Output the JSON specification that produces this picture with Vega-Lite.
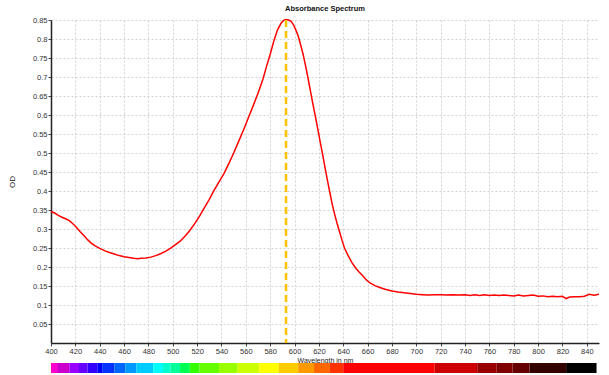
{
  "$schema": "https://vega.github.io/schema/vega-lite/v6.json",
  "background": "white",
  "padding": {"left": 8, "top": 4, "right": 5, "bottom": 2},
  "bounds": "flush",
  "spacing": 20,
  "config": {
    "font": "Liberation Sans",
    "view": {"stroke": null},
    "axis": {
      "labelFont": "Liberation Sans",
      "labelFontSize": 7.5,
      "labelColor": "#333333",
      "titleFont": "Liberation Sans",
      "titleFontWeight": "normal",
      "titleColor": "#222222",
      "domainColor": "#222222",
      "domainWidth": 1.5,
      "tickColor": "#444444",
      "tickSize": 3,
      "labelPadding": 1,
      "gridColor": "#d2d2d2",
      "gridDash": [2, 2],
      "gridWidth": 1
    }
  },
  "datasets": {
    "spectrum": [
      {"nm": 400, "od": 0.346}, {"nm": 403, "od": 0.342}, {"nm": 406, "od": 0.336}, {"nm": 409, "od": 0.331},
      {"nm": 412, "od": 0.327}, {"nm": 415, "od": 0.322}, {"nm": 418, "od": 0.314}, {"nm": 421, "od": 0.304},
      {"nm": 424, "od": 0.293}, {"nm": 427, "od": 0.283}, {"nm": 430, "od": 0.272}, {"nm": 433, "od": 0.263},
      {"nm": 436, "od": 0.256}, {"nm": 440, "od": 0.249}, {"nm": 444, "od": 0.243}, {"nm": 448, "od": 0.238},
      {"nm": 452, "od": 0.234}, {"nm": 456, "od": 0.230}, {"nm": 460, "od": 0.227}, {"nm": 464, "od": 0.225},
      {"nm": 468, "od": 0.223}, {"nm": 471, "od": 0.222}, {"nm": 474, "od": 0.223}, {"nm": 478, "od": 0.224},
      {"nm": 482, "od": 0.226}, {"nm": 486, "od": 0.230}, {"nm": 490, "od": 0.235}, {"nm": 494, "od": 0.241},
      {"nm": 498, "od": 0.249}, {"nm": 502, "od": 0.258}, {"nm": 506, "od": 0.268}, {"nm": 510, "od": 0.281},
      {"nm": 514, "od": 0.296}, {"nm": 518, "od": 0.314}, {"nm": 522, "od": 0.334}, {"nm": 526, "od": 0.356},
      {"nm": 530, "od": 0.378}, {"nm": 534, "od": 0.402}, {"nm": 538, "od": 0.424}, {"nm": 542, "od": 0.446},
      {"nm": 546, "od": 0.472}, {"nm": 550, "od": 0.500}, {"nm": 554, "od": 0.530}, {"nm": 558, "od": 0.560},
      {"nm": 562, "od": 0.592}, {"nm": 566, "od": 0.624}, {"nm": 570, "od": 0.657}, {"nm": 574, "od": 0.694},
      {"nm": 577, "od": 0.728}, {"nm": 580, "od": 0.760}, {"nm": 583, "od": 0.795}, {"nm": 586, "od": 0.824},
      {"nm": 589, "od": 0.842}, {"nm": 591, "od": 0.849}, {"nm": 593, "od": 0.851}, {"nm": 595, "od": 0.850},
      {"nm": 597, "od": 0.847}, {"nm": 599, "od": 0.838}, {"nm": 601, "od": 0.824}, {"nm": 603, "od": 0.808},
      {"nm": 605, "od": 0.785}, {"nm": 607, "od": 0.760}, {"nm": 609, "od": 0.730}, {"nm": 611, "od": 0.698},
      {"nm": 613, "od": 0.664}, {"nm": 615, "od": 0.630}, {"nm": 617, "od": 0.598}, {"nm": 619, "od": 0.565},
      {"nm": 621, "od": 0.530}, {"nm": 623, "od": 0.497}, {"nm": 625, "od": 0.462}, {"nm": 627, "od": 0.428},
      {"nm": 629, "od": 0.396}, {"nm": 631, "od": 0.364}, {"nm": 633, "od": 0.338}, {"nm": 635, "od": 0.314},
      {"nm": 637, "od": 0.292}, {"nm": 639, "od": 0.270}, {"nm": 641, "od": 0.250}, {"nm": 644, "od": 0.230},
      {"nm": 647, "od": 0.212}, {"nm": 650, "od": 0.198}, {"nm": 653, "od": 0.187}, {"nm": 656, "od": 0.177},
      {"nm": 659, "od": 0.166}, {"nm": 662, "od": 0.158}, {"nm": 666, "od": 0.151}, {"nm": 670, "od": 0.146},
      {"nm": 675, "od": 0.141}, {"nm": 680, "od": 0.137}, {"nm": 685, "od": 0.134}, {"nm": 690, "od": 0.132},
      {"nm": 695, "od": 0.130}, {"nm": 700, "od": 0.128}, {"nm": 705, "od": 0.127}, {"nm": 710, "od": 0.126},
      {"nm": 715, "od": 0.127}, {"nm": 720, "od": 0.127}, {"nm": 725, "od": 0.126}, {"nm": 730, "od": 0.127},
      {"nm": 735, "od": 0.126}, {"nm": 740, "od": 0.127}, {"nm": 744, "od": 0.125}, {"nm": 748, "od": 0.127},
      {"nm": 752, "od": 0.125}, {"nm": 756, "od": 0.127}, {"nm": 760, "od": 0.125}, {"nm": 764, "od": 0.126},
      {"nm": 768, "od": 0.125}, {"nm": 772, "od": 0.126}, {"nm": 776, "od": 0.125}, {"nm": 780, "od": 0.124},
      {"nm": 784, "od": 0.126}, {"nm": 788, "od": 0.124}, {"nm": 792, "od": 0.125}, {"nm": 796, "od": 0.126},
      {"nm": 800, "od": 0.123}, {"nm": 804, "od": 0.124}, {"nm": 808, "od": 0.122}, {"nm": 812, "od": 0.123},
      {"nm": 816, "od": 0.122}, {"nm": 820, "od": 0.123}, {"nm": 823, "od": 0.117}, {"nm": 826, "od": 0.121},
      {"nm": 830, "od": 0.122}, {"nm": 834, "od": 0.122}, {"nm": 838, "od": 0.123}, {"nm": 842, "od": 0.128},
      {"nm": 846, "od": 0.126}, {"nm": 850, "od": 0.128}
    ],
    "peak": [{"nm": 593}],
    "bands": [
      {"from": 400, "to": 405, "band": "b01"}, {"from": 405, "to": 415, "band": "b02"},
      {"from": 415, "to": 423, "band": "b03"}, {"from": 423, "to": 430, "band": "b04"},
      {"from": 430, "to": 438, "band": "b05"}, {"from": 438, "to": 442, "band": "b06"},
      {"from": 442, "to": 452, "band": "b07"}, {"from": 452, "to": 461, "band": "b08"},
      {"from": 461, "to": 470, "band": "b09"}, {"from": 470, "to": 484, "band": "b10"},
      {"from": 484, "to": 492, "band": "b11"}, {"from": 492, "to": 498, "band": "b12"},
      {"from": 498, "to": 506, "band": "b13"}, {"from": 506, "to": 514, "band": "b14"},
      {"from": 514, "to": 522, "band": "b15"}, {"from": 522, "to": 538, "band": "b16"},
      {"from": 538, "to": 553, "band": "b17"}, {"from": 553, "to": 571, "band": "b18"},
      {"from": 571, "to": 587, "band": "b19"}, {"from": 587, "to": 603, "band": "b20"},
      {"from": 603, "to": 616, "band": "b21"}, {"from": 616, "to": 629, "band": "b22"},
      {"from": 629, "to": 640, "band": "b23"}, {"from": 640, "to": 715, "band": "b24"},
      {"from": 715, "to": 750, "band": "b25"}, {"from": 750, "to": 766, "band": "b26"},
      {"from": 766, "to": 779, "band": "b27"}, {"from": 779, "to": 793, "band": "b28"},
      {"from": 793, "to": 823, "band": "b29"}, {"from": 823, "to": 848, "band": "b30"}
    ]
  },
  "vconcat": [
    {
      "width": 548,
      "height": 323,
      "title": {"text": "Absorbance Spectrum", "font": "Liberation Sans", "fontSize": 7.5, "fontWeight": "bold", "color": "#111111", "anchor": "middle", "offset": 4},
      "encoding": {
        "x": {
          "field": "nm", "type": "quantitative",
          "scale": {"domain": [400, 850], "nice": false, "zero": false},
          "axis": {"values": [400, 420, 440, 460, 480, 500, 520, 540, 560, 580, 600, 620, 640, 660, 680, 700, 720, 740, 760, 780, 800, 820, 840], "title": "Wavelength in nm", "titleFontSize": 7, "titlePadding": 2, "labelFlush": false}
        }
      },
      "layer": [
        {
          "data": {"name": "spectrum"},
          "mark": {"type": "line", "color": "#ff0000", "strokeWidth": 1.5},
          "encoding": {
            "y": {
              "field": "od", "type": "quantitative",
              "scale": {"domain": [0, 0.85], "nice": false},
              "axis": {"values": [0.05, 0.1, 0.15, 0.2, 0.25, 0.3, 0.35, 0.4, 0.45, 0.5, 0.55, 0.6, 0.65, 0.7, 0.75, 0.8, 0.85], "format": "~g", "title": "OD", "titleFontSize": 8, "titlePadding": 16, "labelFlush": false}
            }
          }
        },
        {
          "data": {"name": "peak"},
          "mark": {"type": "rule", "color": "#ffc000", "strokeWidth": 2.5, "strokeDash": [7, 4]},
          "encoding": {}
        }
      ]
    },
    {
      "width": 548,
      "height": 10,
      "data": {"name": "bands"},
      "mark": {"type": "rect"},
      "encoding": {
        "x": {"field": "from", "type": "quantitative", "scale": {"domain": [400, 850], "nice": false, "zero": false}, "axis": null},
        "x2": {"field": "to"},
        "color": {
          "field": "band", "type": "nominal", "legend": null,
          "scale": {
            "domain": ["b01","b02","b03","b04","b05","b06","b07","b08","b09","b10","b11","b12","b13","b14","b15","b16","b17","b18","b19","b20","b21","b22","b23","b24","b25","b26","b27","b28","b29","b30"],
            "range": ["#ff00cc","#cc00cc","#9900ff","#6600ff","#3300ff","#0000ff","#0033ff","#0066ff","#0099ff","#00ccff","#00ffff","#00ffcc","#00ff99","#00ff55","#33ff00","#66ff00","#99ff00","#ccff00","#ffff00","#ffcc00","#ff9900","#ff6600","#ff3300","#ff0000","#cc0000","#990000","#800000","#660000","#330000","#000000"]
          }
        }
      }
    }
  ]
}
